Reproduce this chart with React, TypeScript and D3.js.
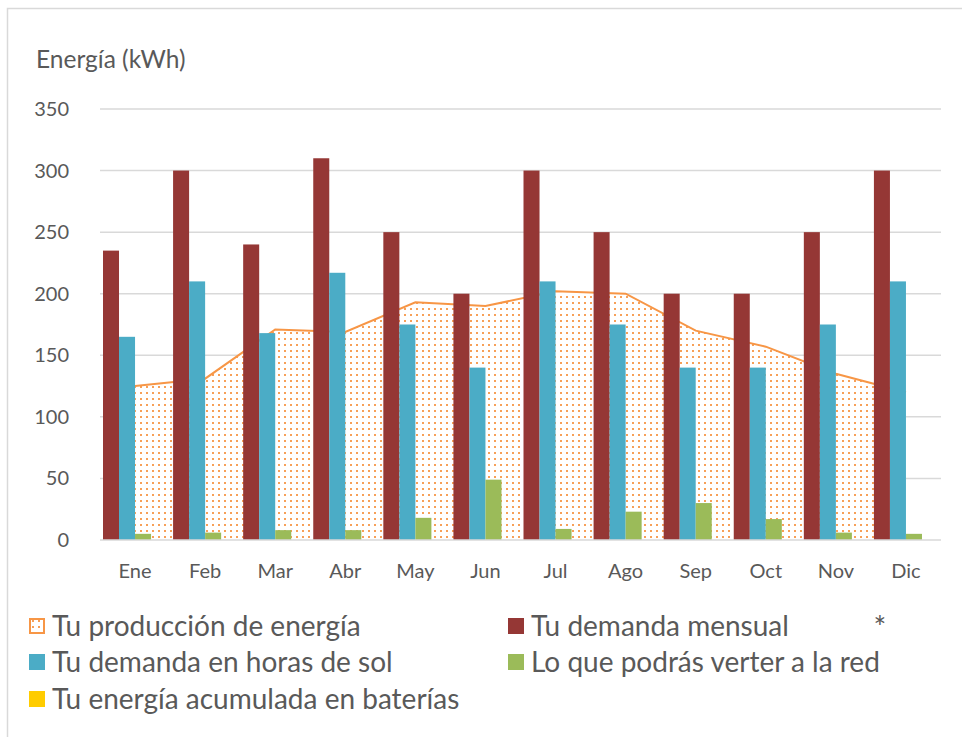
import { useEffect, useRef } from 'react';
import * as d3 from 'd3';

const months = ['Ene', 'Feb', 'Mar', 'Abr', 'May', 'Jun', 'Jul', 'Ago', 'Sep', 'Oct', 'Nov', 'Dic'];
const produccion = [125, 131, 171, 169, 193, 190, 202, 200, 170, 157, 135, 120];
const demandaMensual = [235, 300, 240, 310, 250, 200, 300, 250, 200, 200, 250, 300];
const demandaSol = [165, 210, 168, 217, 175, 140, 210, 175, 140, 140, 175, 210];
const verterRed = [5, 6, 8, 8, 18, 49, 9, 23, 30, 17, 6, 5];
const baterias = [0, 0, 0, 0, 0, 0, 0, 0, 0, 0, 0, 0];
const yTicks = [0, 50, 100, 150, 200, 250, 300, 350];

const barSeries = [
  { key: 'mensual', values: demandaMensual, color: '#953735' },
  { key: 'sol', values: demandaSol, color: '#4BACC6' },
  { key: 'red', values: verterRed, color: '#9BBB59' },
  { key: 'bat', values: baterias, color: '#FFCC00' },
];

const legendItems = [
  { label: 'Tu producción de energía', type: 'pattern', color: '#F79646', col: 0, row: 0 },
  { label: 'Tu demanda mensual', type: 'solid', color: '#953735', col: 1, row: 0 },
  { label: 'Tu demanda en horas de sol', type: 'solid', color: '#4BACC6', col: 0, row: 1 },
  { label: 'Lo que podrás verter a la red', type: 'solid', color: '#9BBB59', col: 1, row: 1 },
  { label: 'Tu energía acumulada en baterías', type: 'solid', color: '#FFCC00', col: 0, row: 2 },
];

export default function App() {
  const svgRef = useRef<SVGSVGElement>(null);

  useEffect(() => {
    const svg = d3.select(svgRef.current);
    svg.selectAll('*').remove();

    const width = 962, height = 737;
    const M = { left: 100, right: 21, top: 109, bottom: 197 };
    const font = 'Lato, "Open Sans", sans-serif';
    const textColor = '#595959';

    const defs = svg.append('defs');
    const pat = defs.append('pattern').attr('id', 'dots').attr('patternUnits', 'userSpaceOnUse')
      .attr('width', 6).attr('height', 6);
    pat.append('rect').attr('width', 6).attr('height', 6).attr('fill', '#fff');
    pat.append('rect').attr('x', 2).attr('y', 2).attr('width', 2).attr('height', 2).attr('fill', '#F79646').attr('opacity', 0.9);

    // outer chart border
    svg.append('rect').attr('x', 7.5).attr('y', 8.5).attr('width', 1000).attr('height', 800)
      .attr('fill', '#fff').attr('stroke', '#d9d9d9').attr('stroke-width', 1.5);

    const x = d3.scaleBand<string>().domain(months).range([M.left, width - M.right]);
    const inner = d3.scaleBand<string>().domain(barSeries.map(s => s.key)).range([3, x.bandwidth() - 3]);
    const y = d3.scaleLinear().domain([0, 350]).range([height - M.bottom, M.top]);

    const g = svg.append('g');

    // gridlines
    g.append('g').selectAll('line').data(yTicks.filter(t => t > 0)).join('line')
      .attr('x1', M.left).attr('x2', width - M.right)
      .attr('y1', d => y(d)).attr('y2', d => y(d))
      .attr('stroke', '#d9d9d9').attr('stroke-width', 1.5);

    // production area
    const cx = (m: string) => (x(m) ?? 0) + x.bandwidth() / 2;
    const area = d3.area<number>().x((_, i) => cx(months[i])).y0(y(0)).y1(d => y(d));
    const line = d3.line<number>().x((_, i) => cx(months[i])).y(d => y(d));
    g.append('path').datum(produccion).attr('d', area).attr('fill', 'url(#dots)');
    g.append('path').datum(produccion).attr('d', line).attr('fill', 'none')
      .attr('stroke', '#F79646').attr('stroke-width', 2);

    // bars
    barSeries.forEach(s => {
      g.append('g').selectAll('rect').data(s.values).join('rect')
        .attr('x', (_, i) => (x(months[i]) ?? 0) + (inner(s.key) ?? 0))
        .attr('width', inner.bandwidth())
        .attr('y', d => y(d))
        .attr('height', d => y(0) - y(d))
        .attr('fill', s.color);
    });

    // x axis baseline
    g.append('line').attr('x1', M.left).attr('x2', width - M.right)
      .attr('y1', y(0)).attr('y2', y(0)).attr('stroke', '#d9d9d9').attr('stroke-width', 1.5);

    // y tick labels
    g.append('g').selectAll('text').data(yTicks).join('text')
      .attr('x', 69).attr('y', d => y(d)).attr('dy', '0.35em')
      .attr('text-anchor', 'end').attr('font-family', font).attr('font-size', 20)
      .attr('fill', textColor).text(d => d);

    // x tick labels
    g.append('g').selectAll('text').data(months).join('text')
      .attr('x', d => cx(d)).attr('y', 578)
      .attr('text-anchor', 'middle').attr('font-family', font).attr('font-size', 20)
      .attr('fill', textColor).text(d => d);

    // axis title
    svg.append('text').attr('x', 36).attr('y', 68).attr('font-family', font).attr('font-size', 24.5)
      .attr('fill', textColor).text('Energía (kWh)');

    // legend
    const colX = [29, 508];
    const rowY = [626, 662, 699];
    const lg = svg.append('g');
    legendItems.forEach(it => {
      const lx = colX[it.col], ly = rowY[it.row];
      if (it.type === 'pattern') {
        lg.append('rect').attr('x', lx + 1).attr('y', ly - 7).attr('width', 14).attr('height', 14)
          .attr('fill', 'url(#dots)').attr('stroke', it.color).attr('stroke-width', 2);
      } else {
        lg.append('rect').attr('x', lx).attr('y', ly - 8).attr('width', 16).attr('height', 16).attr('fill', it.color);
      }
      lg.append('text').attr('x', lx + 23).attr('y', ly).attr('dy', '0.36em')
        .attr('font-family', font).attr('font-size', 28).attr('fill', textColor).text(it.label);
    });
    lg.append('text').attr('x', 880).attr('y', 638).attr('text-anchor', 'middle')
      .attr('font-family', font).attr('font-size', 30).attr('fill', textColor).text('*');
  }, []);

  return (
    <svg ref={svgRef} width={962} height={737}
      style={{ position: 'absolute', left: 0, top: 0, background: '#fff' }} />
  );
}
